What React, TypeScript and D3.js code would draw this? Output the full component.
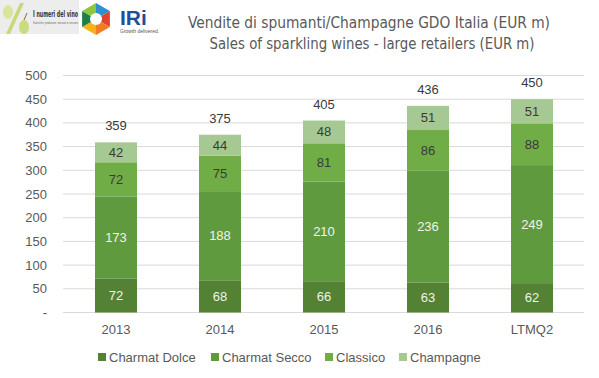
import React from "react";
import * as d3 from "d3";

const categories = ["2013", "2014", "2015", "2016", "LTMQ2"];
const seriesNames = ["Charmat Dolce", "Charmat Secco", "Classico", "Champagne"];
const charmatDolce = [72, 68, 66, 63, 62];
const charmatSecco = [173, 188, 210, 236, 249];
const classico = [72, 75, 81, 86, 88];
const champagne = [42, 44, 48, 51, 51];
const totals = [359, 375, 405, 436, 450];
const yTicks = [0, 50, 100, 150, 200, 250, 300, 350, 400, 450, 500];

const colors = ["#548235", "#609a3f", "#70ad47", "#a6c892"];
const labelColors = ["#eef4e8", "#eef4e8", "#3a3a3a", "#3a3a3a"];

export default function App() {
  const W = 599, H = 378;
  const x = d3.scaleBand<string>().domain(categories).range([64, 584]).paddingInner(0.596).paddingOuter(0.298);
  const y = d3.scaleLinear().domain([0, 500]).range([312.5, 75.5]);
  const data = categories.map((c, i) => ({
    cat: c,
    "Charmat Dolce": charmatDolce[i],
    "Charmat Secco": charmatSecco[i],
    Classico: classico[i],
    Champagne: champagne[i],
  }));
  const stacked = d3.stack<any>().keys(seriesNames)(data);
  const font = "'Liberation Sans', Arial, sans-serif";
  const narrow = "'Liberation Sans Narrow', 'DejaVu Sans Condensed', sans-serif";
  const legendX = [98, 211, 325, 399];
  return (
    <svg width={W} height={H} style={{ position: "absolute", left: 0, top: 0, fontFamily: font }}>
      <rect width={W} height={H} fill="#fff" />
      {/* logos */}
      <g>
        <rect x={0} y={0} width={79} height={34} fill="#ededed" />
        <path d="M6,34 L20,3 L24,3 L10,34 Z" fill="#c7d97a" />
        <ellipse cx={8} cy={12} rx={5} ry={7} fill="#d8e59a" />
        <ellipse cx={24} cy={27} rx={5} ry={7} fill="#c9dc7f" />
        <line x1={24} y1={20} x2={27} y2={13} stroke="#8a6a3a" strokeWidth={1} />
        <text x={33} y={17} fontSize={8} fontWeight="bold" fill="#333" fontFamily={narrow} textLength={45} lengthAdjust="spacingAndGlyphs">I numeri del vino</text>
        <text x={33} y={24} fontSize={3} fill="#666" textLength={45} lengthAdjust="spacingAndGlyphs">Statistiche, produzione, mercato e consumo</text>
        {/* hexagon */}
        <g transform="translate(96,19)">
          {[0, 1, 2, 3, 4, 5].map((k) => {
            const a0 = (Math.PI / 3) * k - Math.PI / 2;
            const a1 = (Math.PI / 3) * (k + 1) - Math.PI / 2;
            const r = 16;
            const cols = ["#2e8fd1", "#e2432f", "#f07d22", "#f5b21a", "#1d7f45", "#8dc63f"];
            return (
              <path key={k} d={`M0,0 L${r * Math.cos(a0)},${r * Math.sin(a0)} L${r * Math.cos(a1)},${r * Math.sin(a1)} Z`} fill={cols[k]} />
            );
          })}
          <circle cx={0} cy={0} r={6} fill="#fff" />
        </g>
        <text x={120} y={25} fontSize={21} fontWeight="bold" fill="#1f4e9b">IRi</text>
        <text x={120} y={33} fontSize={5} fill="#555">Growth delivered.</text>
      </g>
      {/* title */}
      <text x={369} y={28} textAnchor="middle" fontSize={16} fill="#595959" fontFamily={narrow} textLength={362} lengthAdjust="spacingAndGlyphs">
        Vendite di spumanti/Champagne GDO Italia (EUR m)
      </text>
      <text x={372} y={49} textAnchor="middle" fontSize={16} fill="#595959" fontFamily={narrow} textLength={325} lengthAdjust="spacingAndGlyphs">
        Sales of sparkling wines - large retailers (EUR m)
      </text>
      {/* grid */}
      {yTicks.map((t) => (
        <g key={t}>
          <line x1={63} x2={584} y1={y(t)} y2={y(t)} stroke="#d9d9d9" strokeWidth={1} />
          <text x={47} y={y(t)} dy="0.35em" textAnchor="end" fontSize={13} fill="#595959">
            {t === 0 ? "-" : t}
          </text>
        </g>
      ))}
      {/* bars */}
      {stacked.map((s, si) => (
        <g key={s.key}>
          {s.map((d, i) => (
            <g key={i}>
              <rect x={x(categories[i])} width={x.bandwidth()} y={y(d[1])} height={y(d[0]) - y(d[1])} fill={colors[si]} />
              <text x={(x(categories[i]) as number) + x.bandwidth() / 2} y={(y(d[0]) + y(d[1])) / 2} dy="0.35em" textAnchor="middle" fontSize={13} fill={labelColors[si]}>
                {d[1] - d[0]}
              </text>
            </g>
          ))}
        </g>
      ))}
      {/* totals */}
      {totals.map((t, i) => (
        <text key={i} x={(x(categories[i]) as number) + x.bandwidth() / 2} y={y(t) - 12} textAnchor="middle" fontSize={13} fill="#3a3a3a">
          {t}
        </text>
      ))}
      {/* x labels */}
      {categories.map((c) => (
        <text key={c} x={(x(c) as number) + x.bandwidth() / 2} y={334} textAnchor="middle" fontSize={13} fill="#595959">
          {c}
        </text>
      ))}
      {/* legend */}
      {seriesNames.map((n, i) => (
        <g key={n}>
          <rect x={legendX[i]} y={353} width={8} height={8} fill={colors[i]} />
          <text x={legendX[i] + 11} y={361.5} fontSize={13} fill="#595959">
            {n}
          </text>
        </g>
      ))}
    </svg>
  );
}
